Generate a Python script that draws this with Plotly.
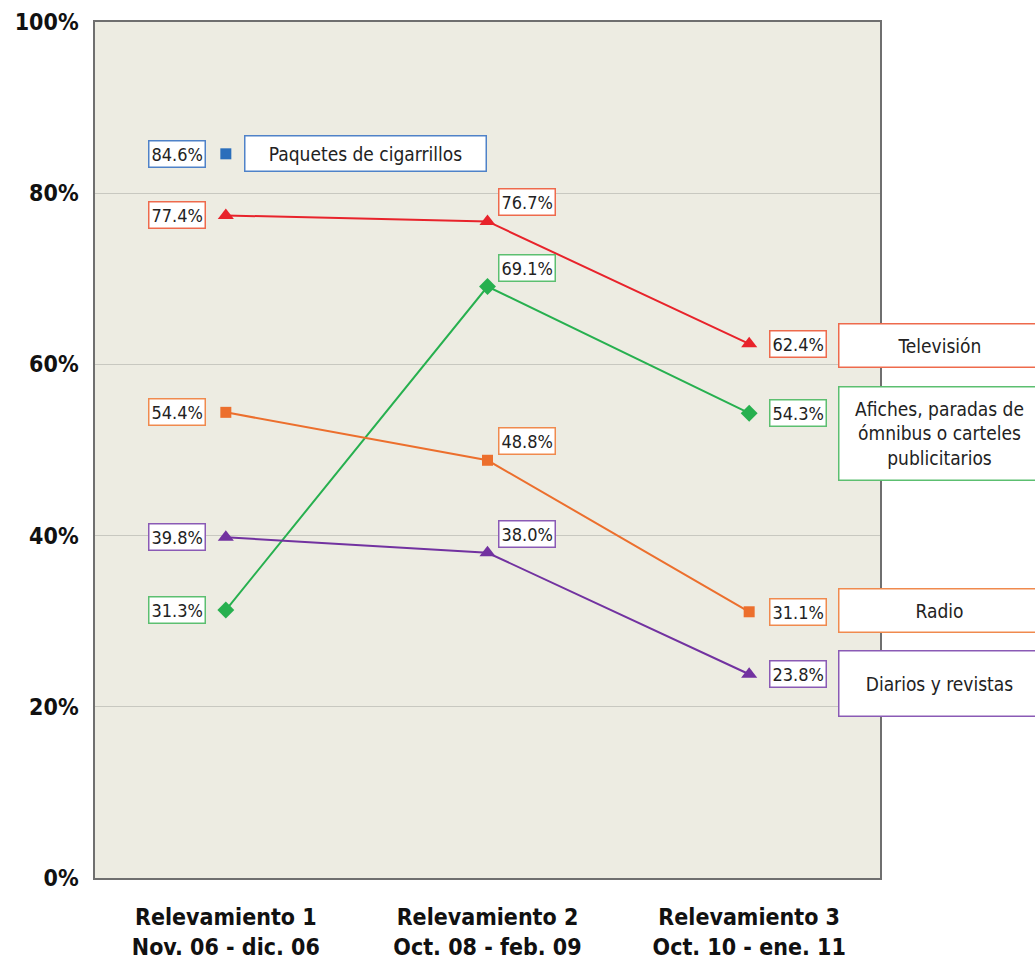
import plotly.graph_objects as go

# Survey rounds (x axis)
categories = [
    "Relevamiento 1<br>Nov. 06 - dic. 06",
    "Relevamiento 2<br>Oct. 08 - feb. 09",
    "Relevamiento 3<br>Oct. 10 - ene. 11",
]

# Percentages per media channel
television = [77.4, 76.7, 62.4]
afiches = [31.3, 69.1, 54.3]
radio = [54.4, 48.8, 31.1]
diarios = [39.8, 38.0, 23.8]
paquetes = [84.6]

series = [
    # name, values, line colour, label border colour, marker symbol, legend label
    ("Televisión", television, "#e8232b", "#ee6a4c", "triangle-up", "Televisión"),
    ("Afiches", afiches, "#27b04f", "#5cbf70", "diamond",
     "Afiches, paradas de<br>ómnibus o carteles<br>publicitarios"),
    ("Radio", radio, "#ec6f2d", "#f08a4e", "square", "Radio"),
    ("Diarios", diarios, "#7232a0", "#8a5ab5", "triangle-up", "Diarios y revistas"),
]
marker_sizes = {"triangle-up": 14, "diamond": 13, "square": 11}

FONT = "Liberation Sans Narrow, DejaVu Sans Condensed, Arial Narrow, sans-serif"
x_idx = [0, 1, 2]

fig = go.Figure()
annotations = []

for name, vals, col, bcol, sym, _ in series:
    fig.add_trace(go.Scatter(
        x=x_idx, y=vals, mode="lines+markers", name=name,
        line=dict(color=col, width=2),
        marker=dict(symbol=sym, size=marker_sizes[sym], color=col),
        showlegend=False,
    ))
    for i, v in enumerate(vals):
        if i == 0:
            xa, xs, ys = "right", -20, 0
        elif i == 1:
            xa, xs, ys = "left", 10, 19
        else:
            xa, xs, ys = "left", 20, 0
        annotations.append(dict(
            x=i, y=v, xref="x", yref="y", text=f"{v:.1f}%", showarrow=False,
            xanchor=xa, yanchor="middle", xshift=xs, yshift=ys,
            font=dict(family=FONT, size=18, color="#222"),
            bgcolor="white", bordercolor=bcol, borderwidth=1.5, borderpad=2,
        ))

# Cigarette packs: only measured in round 1
fig.add_trace(go.Scatter(
    x=[0], y=paquetes, mode="markers", name="Paquetes",
    marker=dict(symbol="square", size=11, color="#2a6ebb"),
    showlegend=False,
))
annotations.append(dict(
    x=0, y=paquetes[0], xref="x", yref="y", text=f"{paquetes[0]:.1f}%",
    showarrow=False, xanchor="right", yanchor="middle", xshift=-20,
    font=dict(family=FONT, size=18, color="#222"),
    bgcolor="white", bordercolor="#4f82c8", borderwidth=1.5, borderpad=2,
))
annotations.append(dict(
    x=0, y=paquetes[0], xref="x", yref="y", text="Paquetes de cigarrillos",
    showarrow=False, xanchor="left", yanchor="middle", xshift=18,
    width=236, height=30, align="center", valign="middle",
    font=dict(family=FONT, size=19, color="#222"),
    bgcolor="white", bordercolor="#4f82c8", borderwidth=1.5, borderpad=2,
))

# Series labels on the right, aligned with the last values
label_boxes = {
    "Televisión": (62.2, 38),
    "Afiches": (51.9, 88),
    "Radio": (31.2, 38),
    "Diarios": (22.7, 60),
}
for name, vals, col, bcol, sym, lab in series:
    yv, h = label_boxes[name]
    annotations.append(dict(
        x=0.947, y=yv, xref="paper", yref="y", text=lab, showarrow=False,
        xanchor="left", yanchor="middle", width=196, height=h,
        align="center", valign="middle",
        font=dict(family=FONT, size=19, color="#222"),
        bgcolor="white", bordercolor=bcol, borderwidth=1.5, borderpad=2,
    ))

fig.update_layout(
    width=1035, height=964,
    margin=dict(l=95, r=155, t=22, b=86),
    paper_bgcolor="white",
    plot_bgcolor="#edece2",
    annotations=annotations,
    xaxis=dict(
        range=[-0.5, 2.5], tickvals=x_idx,
        ticktext=[f"<b>{c}</b>" for c in categories],
        showgrid=False, zeroline=False, showline=True, mirror=True,
        linecolor="#6f6f6f", linewidth=1.5, ticks="", automargin=False,
        ticklabelstandoff=18,
        tickfont=dict(family=FONT, size=23, color="#111"),
    ),
    yaxis=dict(
        range=[0, 100], tickvals=[0, 20, 40, 60, 80, 100],
        ticktext=["<b>0%</b>", "<b>20%</b>", "<b>40%</b>", "<b>60%</b>", "<b>80%</b>", "<b>100%</b>"],
        showgrid=True, gridcolor="#c8c8c0", gridwidth=1.2, zeroline=False,
        showline=True, mirror=True, linecolor="#6f6f6f", linewidth=1.5,
        ticks="", ticklabelstandoff=10, automargin=False,
        tickfont=dict(family=FONT, size=23, color="#111"),
    ),
)

fig.write_html("out.html")
